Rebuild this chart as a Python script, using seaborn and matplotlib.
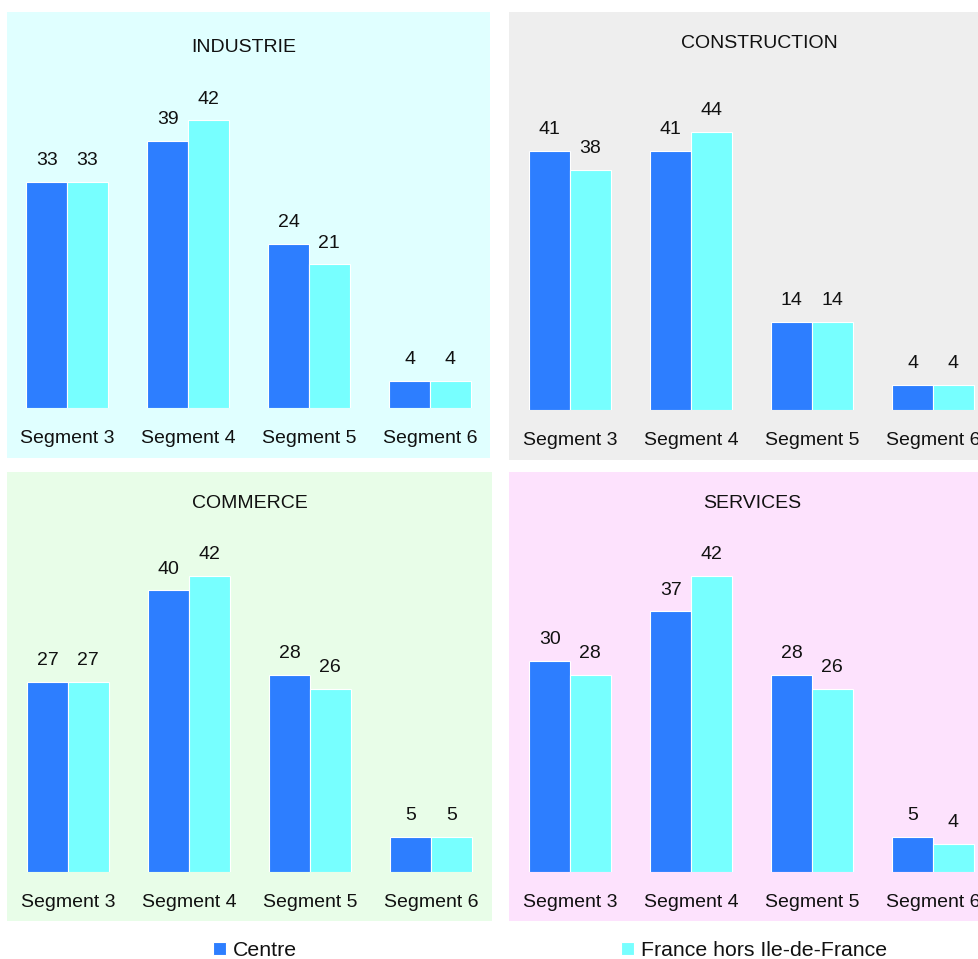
import matplotlib
matplotlib.use("Agg")
import matplotlib.pyplot as plt
from matplotlib.patches import Rectangle
import pandas as pd
import seaborn as sns

# Data: share of establishments by size segment (%)
segments = ["Segment 3", "Segment 4", "Segment 5", "Segment 6"]
series_names = ["Centre", "France hors Ile-de-France"]

industrie_centre = [33, 39, 24, 4]
industrie_france = [33, 42, 21, 4]
construction_centre = [41, 41, 14, 4]
construction_france = [38, 44, 14, 4]
commerce_centre = [27, 40, 28, 5]
commerce_france = [27, 42, 26, 5]
services_centre = [30, 37, 28, 5]
services_france = [28, 42, 26, 4]

titles = ["INDUSTRIE", "CONSTRUCTION", "COMMERCE", "SERVICES"]

sns.set_theme(style="white")
plt.rcParams["font.family"] = ["Liberation Sans", "DejaVu Sans"]

W, H = 979, 959
fig = plt.figure(figsize=(W / 100, H / 100), dpi=100, facecolor="white")

palette = {"Centre": "#2D7EFF", "France hors Ile-de-France": "#77FFFF"}


def frame(df_centre, df_france):
    return pd.DataFrame({
        "segment": segments * 2,
        "serie": [series_names[0]] * 4 + [series_names[1]] * 4,
        "valeur": list(df_centre) + list(df_france),
    })


# panel: (values, background, panel box px (x0, y0, x1, y1),
#         axes px (left, right, top, baseline), ymax, title position px)
panels = [
    (industrie_centre, industrie_france, "#E0FFFF", (7, 12, 490, 458),
     (6.5, 490.5, 70, 408), 338 / 6.85, (244, 47)),
    (construction_centre, construction_france, "#EEEEEE", (509, 12, 990, 460),
     (509.5, 993.5, 70, 410), 340 / 6.32, (759, 43)),
    (commerce_centre, commerce_france, "#E8FDE8", (7, 472, 492, 921),
     (7.5, 491.5, 535, 872), 337 / 7.05, (250, 503)),
    (services_centre, services_france, "#FDE2FD", (509, 472, 990, 921),
     (509.5, 993.5, 535, 872), 337 / 7.05, (752, 503)),
]

handles = None
for (c_vals, f_vals, bg, box, ax_px, ymax, tpos), title in zip(panels, titles):
    x0, y0, x1, y1 = box
    fig.patches.append(Rectangle((x0 / W, 1 - y1 / H), (x1 - x0) / W, (y1 - y0) / H,
                                 transform=fig.transFigure, facecolor=bg,
                                 edgecolor="none", zorder=-5))
    left, right, top, base = ax_px
    ax = fig.add_axes([left / W, 1 - base / H, (right - left) / W, (base - top) / H])
    ax.set_zorder(2)
    ax.patch.set_alpha(0)
    sns.barplot(data=frame(c_vals, f_vals), x="segment", y="valeur", hue="serie",
                order=segments, hue_order=series_names, palette=palette,
                saturation=1, width=0.67, errorbar=None, edgecolor="white",
                linewidth=0.8, ax=ax)
    for cont in ax.containers:
        ax.bar_label(cont, fmt="%.0f", padding=9, fontsize=14, color="#111111")
    ax.set_xlim(-0.5, 3.5)
    ax.set_ylim(0, ymax)
    ax.set_xlabel("")
    ax.set_ylabel("")
    ax.set_yticks([])
    ax.tick_params(axis="x", length=0, pad=15.5, labelsize=14, colors="#111111")
    for s in ax.spines.values():
        s.set_visible(False)
    if handles is None:
        handles, _ = ax.get_legend_handles_labels()
    if ax.get_legend() is not None:
        ax.get_legend().remove()
    fig.text(tpos[0] / W, 1 - tpos[1] / H, title, ha="center", va="center",
             fontsize=14, color="#111111")

# Legend entries placed under each column of panels
for h, name, xpx in zip(handles, series_names, [213, 621]):
    leg = fig.legend([h], [name], loc="center left",
                     bbox_to_anchor=(xpx / W, 1 - 950.5 / H), frameon=False,
                     borderpad=0, borderaxespad=0, handlelength=0.62,
                     handleheight=0.62, handletextpad=0.3, fontsize=15.3)
    for t in leg.get_texts():
        t.set_color("#111111")

fig.savefig("out.png", dpi=100, facecolor="white")
